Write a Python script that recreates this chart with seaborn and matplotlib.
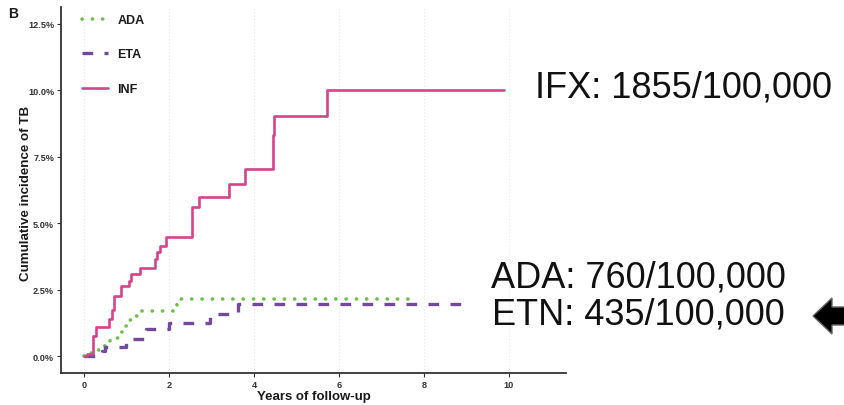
import matplotlib
matplotlib.use("Agg")
import matplotlib.pyplot as plt
import matplotlib.patches as mpatches
import matplotlib.transforms as mtransforms
import numpy as np
import pandas as pd
import seaborn as sns

# Kaplan-Meier style cumulative incidence of TB (percent) by biologic
ada_years = [0, 0.08, 0.20, 0.35, 0.50, 0.62, 0.80, 0.97, 1.05, 1.20, 1.33, 2.13, 2.20, 7.66]
ada_pct = [0, 0.12, 0.25, 0.40, 0.55, 0.70, 0.90, 1.13, 1.35, 1.52, 1.71, 1.92, 2.16, 2.16]

eta_years = [0, 0.42, 0.50, 0.98, 1.47, 2.00, 2.96, 3.63, 8.91]
eta_pct = [0, 0.22, 0.34, 0.65, 1.04, 1.27, 1.59, 1.95, 1.95]

inf_years = [0, 0.08, 0.22, 0.28, 0.60, 0.66, 0.71, 0.86, 1.05, 1.11, 1.31, 1.66, 1.71,
             1.78, 1.92, 2.53, 2.70, 3.42, 3.80, 4.45, 4.48, 5.71, 9.88]
inf_pct = [0, 0.09, 0.76, 1.09, 1.40, 1.75, 2.28, 2.64, 2.82, 3.09, 3.32, 3.64, 3.91,
           4.16, 4.47, 5.60, 5.98, 6.48, 7.05, 8.32, 9.02, 10.02, 10.02]

groups = ["ADA", "ETA", "INF"]
y_ticks = [0, 2.5, 5.0, 7.5, 10.0, 12.5]
x_ticks = [0, 2, 4, 6, 8, 10]

rates = ["IFX: 1855/100,000", "ADA: 760/100,000", "ETN: 435/100,000"]

colors = {"ADA": "#6fbf4a", "ETA": "#74489a", "INF": "#d6438b"}

df = pd.concat([
    pd.DataFrame({"years": ada_years, "pct": ada_pct, "drug": "ADA"}),
    pd.DataFrame({"years": eta_years, "pct": eta_pct, "drug": "ETA"}),
    pd.DataFrame({"years": inf_years, "pct": inf_pct, "drug": "INF"}),
], ignore_index=True)

sns.set_theme(style="white")
plt.rcParams["font.family"] = ["Liberation Sans", "DejaVu Sans"]

W, H = 845, 406
fig = plt.figure(figsize=(W / 100, H / 100), dpi=100)
ax = fig.add_axes([61 / W, 1 - 374 / H, (566 - 61) / W, (374 - 8) / H])

line_styles = {
    "ADA": dict(linestyle=(0, (0.05, 2.8)), linewidth=2.6, dash_capstyle="round"),
    "ETA": dict(linestyle=(0, (3.2, 3.4)), linewidth=2.4, dash_capstyle="butt"),
    "INF": dict(linestyle="-", linewidth=1.9),
}

for g in groups:
    sub = df[df["drug"] == g]
    sns.lineplot(data=sub, x="years", y="pct", ax=ax, estimator=None, sort=False,
                 drawstyle="steps-post", color=colors[g], label=g, **line_styles[g])

ax.set_xlim(-0.54, 11.34)
ax.set_ylim(-0.625, 13.125)
ax.set_xticks(x_ticks)
ax.set_xticklabels([str(v) for v in x_ticks])
ax.set_yticks(y_ticks)
ax.set_yticklabels([f"{v:.1f}%" for v in y_ticks])

ax.grid(axis="x", linestyle=(0, (1, 2)), color="#e6e6e6", linewidth=0.8)
ax.grid(axis="y", visible=False)
for side in ["top", "right"]:
    ax.spines[side].set_visible(False)
for side in ["left", "bottom"]:
    ax.spines[side].set_color("#333333")
    ax.spines[side].set_linewidth(1.3)

ax.tick_params(axis="both", which="major", length=3, width=0.8, color="#333333",
               labelsize=6.6, labelcolor="#333333", pad=2, left=True, bottom=True)
for lab in ax.get_xticklabels() + ax.get_yticklabels():
    lab.set_fontweight("bold")

ax.set_xlabel("Years of follow-up", fontsize=9.5, fontweight="bold", color="#1a1a1a", labelpad=1)
ax.set_ylabel("Cumulative incidence of TB", fontsize=9.6, fontweight="bold", color="#1a1a1a")
ax.yaxis.set_label_coords((32 - 61) / (566 - 61), (374 - 193) / (374 - 8))

leg = ax.legend(loc="upper left", bbox_to_anchor=(82 / W, 1 - 15 / H),
                bbox_transform=fig.transFigure, frameon=False, fontsize=9,
                handlelength=2.1, handletextpad=0.75, labelspacing=1.8,
                borderpad=0, borderaxespad=0)
for t in leg.get_texts():
    t.set_fontweight("bold")
    t.set_color("#1a1a1a")

fig.text(8 / W, 1 - 18 / H, "B", fontsize=10, fontweight="bold", color="#1a1a1a")

fig.text(535 / W, 1 - 98 / H, rates[0], fontsize=26, color="#111111")
fig.text(491 / W, 1 - 288 / H, rates[1], fontsize=26, color="#111111")
fig.text(492 / W, 1 - 325 / H, rates[2], fontsize=26, color="#111111")

# Block arrow pointing at the rates, in display pixels
arrow = mpatches.FancyArrow(870, H - 317, -57, 0, width=18, head_width=36, head_length=19,
                            length_includes_head=True, facecolor="black",
                            edgecolor="#666666", linewidth=1.0,
                            transform=mtransforms.IdentityTransform())
fig.add_artist(arrow)

fig.savefig("out.png", dpi=100)
